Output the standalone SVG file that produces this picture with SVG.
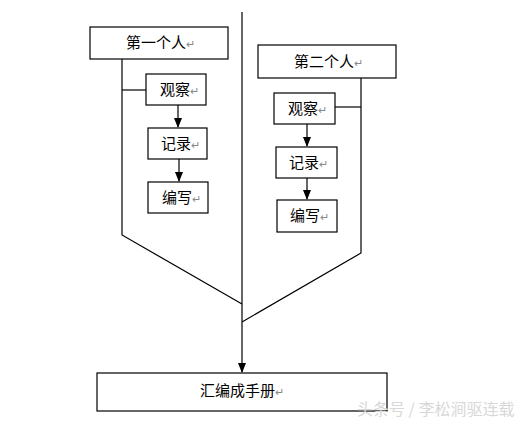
<svg xmlns="http://www.w3.org/2000/svg" width="525" height="424" viewBox="0 0 525 424">
<style>
.box{fill:#fff;stroke:#000;stroke-width:1.2}
.ln{fill:none;stroke:#000;stroke-width:1.2}
.t{font-family:"Noto Sans CJK SC","Liberation Sans",sans-serif;font-size:15px;fill:#000}
.r{fill:#888;font-size:11px}
.wm{font-family:"Noto Sans CJK SC",sans-serif;font-size:16px;fill:#d8d8d8}
</style>
<defs>
<marker id="ad" markerWidth="10" markerHeight="10" refX="9" refY="5" orient="auto" markerUnits="userSpaceOnUse" viewBox="0 0 10 10">
<path d="M0,1 L10,5 L0,9 z" fill="#000"/>
</marker>
</defs>
<rect width="525" height="424" fill="#fff"/>
<g id="connectors">
<line class="ln" x1="242" y1="12" x2="242" y2="372" marker-end="url(#ad)"/>
<polyline class="ln" points="122,59 122,235 242,304"/>
<polyline class="ln" points="361,78 361,253 242,322"/>
<line class="ln" x1="122" y1="90" x2="146" y2="90"/>
<line class="ln" x1="335" y1="107" x2="361" y2="107"/>
<line class="ln" x1="178" y1="105" x2="178" y2="127" marker-end="url(#ad)"/>
<line class="ln" x1="179" y1="159" x2="179" y2="181" marker-end="url(#ad)"/>
<line class="ln" x1="307" y1="124" x2="307" y2="146" marker-end="url(#ad)"/>
<line class="ln" x1="307" y1="178" x2="307" y2="199" marker-end="url(#ad)"/>
</g>
<g id="p1"><rect class="box" x="90" y="27" width="138" height="32"/><text class="t" x="126" y="48">第一个人<tspan class="r">↵</tspan></text></g>
<g id="p2"><rect class="box" x="258" y="45" width="138" height="33"/><text class="t" x="294" y="67">第二个人<tspan class="r">↵</tspan></text></g>
<g id="l1"><rect class="box" x="146" y="74" width="60" height="31"/><text class="t" x="160" y="95">观察<tspan class="r">↵</tspan></text></g>
<g id="l2"><rect class="box" x="148" y="128" width="59" height="31"/><text class="t" x="161" y="149">记录<tspan class="r">↵</tspan></text></g>
<g id="l3"><rect class="box" x="148" y="182" width="60" height="31"/><text class="t" x="162" y="203">编写<tspan class="r">↵</tspan></text></g>
<g id="r1"><rect class="box" x="274" y="93" width="61" height="31"/><text class="t" x="288" y="114">观察<tspan class="r">↵</tspan></text></g>
<g id="r2"><rect class="box" x="276" y="147" width="61" height="31"/><text class="t" x="289" y="168">记录<tspan class="r">↵</tspan></text></g>
<g id="r3"><rect class="box" x="277" y="200" width="60" height="32"/><text class="t" x="290" y="221">编写<tspan class="r">↵</tspan></text></g>
<g id="sum"><rect class="box" x="97" y="373" width="290" height="38"/><text class="t" x="200" y="396">汇编成手册<tspan class="r">↵</tspan></text></g>
<text class="wm" x="357" y="415">头条号 / 李松涧驱连载</text>
</svg>
